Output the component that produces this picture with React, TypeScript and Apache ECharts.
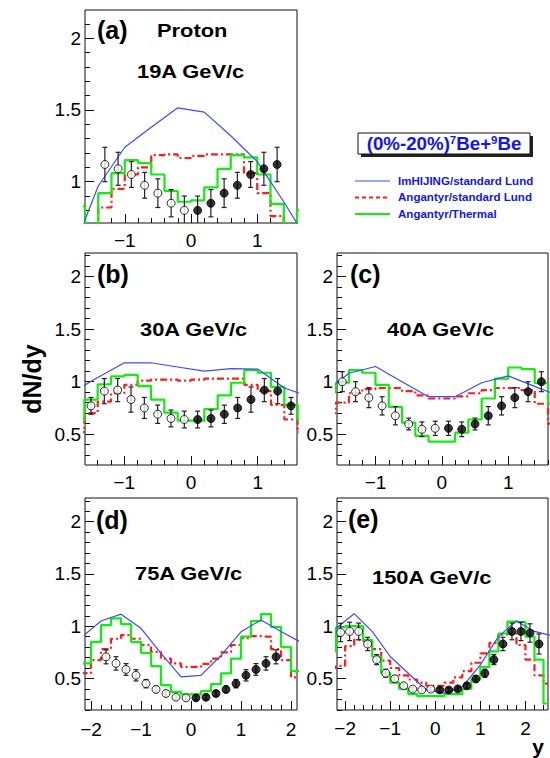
import React, { useEffect, useRef } from 'react';
import * as echarts from 'echarts';

// ---------------- Panel (a): 19A GeV/c ----------------
const A_RAP = [-1.3, -1.1, -0.9, -0.7, -0.5, -0.3, -0.1, 0.1, 0.3, 0.5, 0.7, 0.9, 1.1, 1.3];
const A_DNDY = [1.12, 1.09, 1.05, 0.975, 0.92, 0.85, 0.8, 0.8, 0.85, 0.92, 0.975, 1.05, 1.09, 1.12];
const A_ERR = [0.12, 0.115, 0.09, 0.09, 0.1, 0.095, 0.1, 0.1, 0.095, 0.1, 0.09, 0.09, 0.115, 0.12];
const A_BINS = [-1.7, -1.5, -1.3, -1.1, -0.9, -0.7, -0.5, -0.3, -0.1, 0.1, 0.3, 0.5, 0.7, 0.9, 1.1, 1.3, 1.5, 1.7];
const A_THERMAL = [0.83, 0.7, 0.92, 1.06, 1.15, 1.13, 1.05, 0.935, 0.86, 0.87, 0.96, 1.09, 1.185, 1.17, 1.05, 0.845, 0.7, 0.8];
const A_LUND = [0.7, 0.7, 0.82, 0.95, 1.05, 1.1, 1.185, 1.19, 1.165, 1.18, 1.19, 1.19, 1.19, 1.06, 0.92, 0.76, 0.7, 0.7];
const A_HIJ_Y = [-1.8, -1.4, -1.0, -0.6, -0.2, 0.2, 0.6, 1.0, 1.4, 1.8];
const A_HIJ = [0.5, 0.97, 1.24, 1.38, 1.515, 1.485, 1.32, 1.14, 0.86, 0.56];

// ---------------- Panel (b): 30A GeV/c ----------------
const B_RAP = [-1.5, -1.3, -1.1, -0.9, -0.7, -0.5, -0.3, -0.1, 0.1, 0.3, 0.5, 0.7, 0.9, 1.1, 1.3, 1.5];
const B_DNDY = [0.77, 0.91, 0.92, 0.83, 0.75, 0.69, 0.65, 0.64, 0.64, 0.65, 0.69, 0.75, 0.83, 0.92, 0.91, 0.77];
const B_ERR = [0.08, 0.12, 0.11, 0.12, 0.1, 0.087, 0.08, 0.08, 0.08, 0.08, 0.087, 0.1, 0.12, 0.11, 0.12, 0.08];
const B_BINS = [-1.7, -1.5, -1.3, -1.1, -0.9, -0.7, -0.5, -0.3, -0.1, 0.1, 0.3, 0.5, 0.7, 0.9, 1.1, 1.3, 1.5, 1.7];
const B_THERMAL = [0.635, 0.83, 0.975, 1.05, 1.065, 0.96, 0.83, 0.705, 0.63, 0.63, 0.74, 0.87, 0.99, 1.11, 1.085, 0.95, 0.78, 0.635];
const B_LUND = [0.52, 0.7, 0.81, 0.89, 0.97, 1.01, 1.02, 1.02, 1.01, 1.02, 1.03, 1.03, 1.03, 0.97, 0.91, 0.78, 0.64, 0.52];
const B_HIJ_Y = [-1.8, -1.4, -1.0, -0.6, -0.2, 0.2, 0.6, 1.0, 1.4, 1.8];
const B_HIJ = [0.89, 1.04, 1.18, 1.18, 1.14, 1.1, 1.125, 1.12, 0.94, 0.85];

// ---------------- Panel (c): 40A GeV/c ----------------
const C_RAP = [-1.5, -1.3, -1.1, -0.9, -0.7, -0.5, -0.3, -0.1, 0.1, 0.3, 0.5, 0.7, 0.9, 1.1, 1.3, 1.5];
const C_DNDY = [1.0, 0.905, 0.848, 0.77, 0.676, 0.597, 0.547, 0.556, 0.556, 0.547, 0.597, 0.676, 0.77, 0.848, 0.905, 1.0];
const C_ERR = [0.095, 0.095, 0.095, 0.087, 0.087, 0.056, 0.07, 0.068, 0.068, 0.07, 0.056, 0.087, 0.087, 0.095, 0.095, 0.095];
const C_BINS = [-1.7, -1.5, -1.3, -1.1, -0.9, -0.7, -0.5, -0.3, -0.1, 0.1, 0.3, 0.5, 0.7, 0.9, 1.1, 1.3, 1.5, 1.7];
const C_THERMAL = [0.9, 0.99, 1.11, 1.085, 0.97, 0.76, 0.61, 0.485, 0.43, 0.43, 0.515, 0.64, 0.84, 1.03, 1.135, 1.12, 0.985, 0.79];
const C_LUND = [0.7, 0.8, 0.89, 0.93, 0.94, 0.94, 0.91, 0.87, 0.84, 0.84, 0.86, 0.89, 0.92, 0.94, 0.94, 0.92, 0.79, 0.6];
const C_HIJ_Y = [-1.8, -1.4, -1.0, -0.6, -0.2, 0.2, 0.6, 1.0, 1.4, 1.8];
const C_HIJ = [0.88, 1.08, 1.145, 1.0, 0.857, 0.857, 0.99, 1.055, 0.955, 0.855];

// ---------------- Panel (d): 75A GeV/c ----------------
const D_RAP = [-1.7, -1.5, -1.3, -1.1, -0.9, -0.7, -0.5, -0.3, -0.1, 0.1, 0.3, 0.5, 0.7, 0.9, 1.1, 1.3, 1.5, 1.7];
const D_DNDY = [0.707, 0.644, 0.586, 0.53, 0.45, 0.395, 0.356, 0.32, 0.314, 0.314, 0.32, 0.356, 0.395, 0.45, 0.53, 0.586, 0.644, 0.707];
const D_ERR = [0.067, 0.064, 0.056, 0.054, 0.04, 0.03, 0.025, 0.02, 0.02, 0.02, 0.02, 0.025, 0.03, 0.04, 0.054, 0.056, 0.064, 0.067];
const D_BINS = [-2.3, -2.1, -1.9, -1.7, -1.5, -1.3, -1.1, -0.9, -0.7, -0.5, -0.3, -0.1, 0.1, 0.3, 0.5, 0.7, 0.9, 1.1, 1.3, 1.5, 1.7, 1.9, 2.1, 2.3];
const D_THERMAL = [0.55, 0.644, 0.85, 1.01, 1.075, 1.02, 0.85, 0.745, 0.618, 0.436, 0.372, 0.347, 0.347, 0.38, 0.445, 0.548, 0.69, 0.9, 1.05, 1.116, 0.994, 0.8, 0.57, 0.45];
const D_LUND = [0.45, 0.55, 0.675, 0.78, 0.88, 0.915, 0.88, 0.82, 0.755, 0.69, 0.644, 0.61, 0.61, 0.64, 0.69, 0.75, 0.82, 0.885, 0.905, 0.9, 0.78, 0.675, 0.51, 0.4];
const D_HIJ_Y = [-2.2, -1.8, -1.4, -1.0, -0.6, -0.2, 0.2, 0.6, 1.0, 1.4, 1.8, 2.2];
const D_HIJ = [0.89, 1.05, 1.115, 0.98, 0.74, 0.515, 0.53, 0.72, 0.946, 1.06, 0.95, 0.845];

// ---------------- Panel (e): 150A GeV/c ----------------
const E_RAP = [-2.1, -1.9, -1.7, -1.5, -1.3, -1.1, -0.9, -0.7, -0.5, -0.3, -0.1, 0.1, 0.3, 0.5, 0.7, 0.9, 1.1, 1.3, 1.5, 1.7, 1.9, 2.1, 2.3];
const E_DNDY = [0.94, 0.95, 0.95, 0.83, 0.68, 0.55, 0.497, 0.43, 0.398, 0.39, 0.398, 0.39, 0.39, 0.4, 0.43, 0.495, 0.55, 0.68, 0.83, 0.95, 0.95, 0.935, 0.83];
const E_ERR = [0.088, 0.088, 0.08, 0.064, 0.048, 0.038, 0.03, 0.025, 0.02, 0.02, 0.02, 0.02, 0.02, 0.02, 0.025, 0.03, 0.038, 0.048, 0.064, 0.08, 0.088, 0.088, 0.096];
const E_BINS = [-2.3, -2.1, -1.9, -1.7, -1.5, -1.3, -1.1, -0.9, -0.7, -0.5, -0.3, -0.1, 0.1, 0.3, 0.5, 0.7, 0.9, 1.1, 1.3, 1.5, 1.7, 1.9, 2.1, 2.3, 2.5];
const E_THERMAL = [0.76, 0.99, 1.0, 1.0, 0.87, 0.71, 0.55, 0.46, 0.4, 0.35, 0.33, 0.33, 0.33, 0.35, 0.35, 0.4, 0.49, 0.61, 0.76, 0.93, 1.045, 1.04, 0.9, 0.68, 0.26];
const E_LUND = [0.6, 0.62, 0.81, 0.87, 0.86, 0.78, 0.67, 0.6, 0.53, 0.49, 0.46, 0.43, 0.43, 0.46, 0.51, 0.57, 0.65, 0.74, 0.84, 0.92, 0.93, 0.82, 0.68, 0.53, 0.45];
const E_HIJ_Y = [-2.6, -2.2, -1.8, -1.4, -1.0, -0.6, -0.2, 0.2, 0.6, 1.0, 1.4, 1.8, 2.2, 2.6];
const E_HIJ = [0.85, 0.98, 1.12, 0.95, 0.71, 0.55, 0.39, 0.36, 0.42, 0.63, 0.9, 1.05, 0.95, 0.91];

// ---------------- Texts ----------------
const PANEL_TAGS = ['(a)', '(b)', '(c)', '(d)', '(e)'];
const PANEL_ENERGIES = ['19A GeV/c', '30A GeV/c', '40A GeV/c', '75A GeV/c', '150A GeV/c'];
const LEGEND_LABELS = ['ImHIJING/standard Lund', 'Angantyr/standard Lund', 'Angantyr/Thermal'];

const PANELS = [
  { rap: A_RAP, dndy: A_DNDY, err: A_ERR, bins: A_BINS, thermal: A_THERMAL, lund: A_LUND, hijY: A_HIJ_Y, hij: A_HIJ },
  { rap: B_RAP, dndy: B_DNDY, err: B_ERR, bins: B_BINS, thermal: B_THERMAL, lund: B_LUND, hijY: B_HIJ_Y, hij: B_HIJ },
  { rap: C_RAP, dndy: C_DNDY, err: C_ERR, bins: C_BINS, thermal: C_THERMAL, lund: C_LUND, hijY: C_HIJ_Y, hij: C_HIJ },
  { rap: D_RAP, dndy: D_DNDY, err: D_ERR, bins: D_BINS, thermal: D_THERMAL, lund: D_LUND, hijY: D_HIJ_Y, hij: D_HIJ },
  { rap: E_RAP, dndy: E_DNDY, err: E_ERR, bins: E_BINS, thermal: E_THERMAL, lund: E_LUND, hijY: E_HIJ_Y, hij: E_HIJ },
];

// layout (pixels) and axis ranges
const LAYOUT = [
  { left: 85, top: 10, width: 212, height: 213, xMin: -1.6, xMax: 1.6, yMin: 0.712, yMax: 2.197, xLabelMargin: 8, tagX: 97, tagY: 30, enX: 137, enY: 71 },
  { left: 85, top: 253, width: 212, height: 212, xMin: -1.59, xMax: 1.59, yMin: 0.207, yMax: 2.225, xLabelMargin: 8, tagX: 97, tagY: 274, enX: 140, enY: 329 },
  { left: 337, top: 253, width: 211, height: 212, xMin: -1.58, xMax: 1.6, yMin: 0.207, yMax: 2.225, xLabelMargin: 8, tagX: 350, tagY: 274, enX: 387, enY: 329 },
  { left: 85, top: 498, width: 212, height: 212, xMin: -2.12, xMax: 2.12, yMin: 0.198, yMax: 2.227, xLabelMargin: 10, tagX: 96, tagY: 520, enX: 135, enY: 573 },
  { left: 337, top: 498, width: 211, height: 212, xMin: -2.18, xMax: 2.5, yMin: 0.198, yMax: 2.227, xLabelMargin: 9, tagX: 348, tagY: 519, enX: 372, enY: 577 },
];

const FONT = '"Liberation Sans", Arial, Helvetica, sans-serif';
const BLUE = '#3a4cff';
const RED = '#ff1c1c';
const GREEN = '#10ee10';
const TEXT_BLUE = '#1414f0';

function tickValues(min: number, max: number, step: number) {
  const out: number[] = [];
  const s = Math.ceil(min / step - 1e-9);
  const e = Math.floor(max / step + 1e-9);
  for (let k = s; k <= e; k++) out.push(Math.round(k * step * 1000) / 1000);
  return out;
}

function fmt(v: number) {
  const r = Math.round(v * 10) / 10;
  return r < 0 ? '\u2212' + String(-r) : String(r);
}

function zip(xs: number[], ys: number[]) {
  return xs.map((x, i) => [x, ys[i]]);
}

function buildOption() {
  const grid: any[] = [];
  const xAxis: any[] = [];
  const yAxis: any[] = [];
  const series: any[] = [];

  LAYOUT.forEach((L, i) => {
    grid.push({
      left: L.left, top: L.top, width: L.width, height: L.height,
      show: true, borderColor: '#111', borderWidth: 1, backgroundColor: 'transparent',
      containLabel: false, outerBoundsMode: 'none',
    });
    const common = {
      type: 'value', gridIndex: i,
      axisLine: { show: false, onZero: false },
      splitLine: { show: false },
      minorTick: { show: false },
      minorSplitLine: { show: false },
    };
    xAxis.push({
      ...common, position: 'bottom', min: L.xMin, max: L.xMax,
      axisTick: { show: true, inside: true, length: 9, customValues: tickValues(L.xMin, L.xMax, 1), lineStyle: { color: '#111', width: 1 } },
      axisLabel: {
        show: true, customValues: tickValues(L.xMin, L.xMax, 1), formatter: fmt,
        color: '#000', fontSize: 19, fontFamily: FONT, margin: L.xLabelMargin,
      },
    });
    xAxis.push({
      ...common, position: 'bottom', min: L.xMin, max: L.xMax,
      axisTick: { show: true, inside: true, length: 5, customValues: tickValues(L.xMin, L.xMax, 0.2), lineStyle: { color: '#111', width: 1 } },
      axisLabel: { show: false },
    });
    yAxis.push({
      ...common, position: 'left', min: L.yMin, max: L.yMax,
      axisTick: { show: true, inside: true, length: 9, customValues: tickValues(L.yMin, L.yMax, 0.5), lineStyle: { color: '#111', width: 1 } },
      axisLabel: {
        show: true, customValues: tickValues(L.yMin, L.yMax, 0.5), formatter: fmt,
        color: '#000', fontSize: 19, fontFamily: FONT, margin: 4,
      },
    });
    yAxis.push({
      ...common, position: 'left', min: L.yMin, max: L.yMax,
      axisTick: { show: true, inside: true, length: 5, customValues: tickValues(L.yMin, L.yMax, 0.1), lineStyle: { color: '#111', width: 1 } },
      axisLabel: { show: false },
    });

    const P = PANELS[i];
    const xi = 2 * i;
    const yi = 2 * i;
    series.push({
      type: 'line', name: LEGEND_LABELS[1], xAxisIndex: xi, yAxisIndex: yi,
      data: zip(P.bins, P.lund), step: 'middle', showSymbol: false, symbol: 'none', clip: true,
      lineStyle: { color: RED, width: 2.2, type: [7, 3, 2, 3] }, z: 2,
    });
    series.push({
      type: 'line', name: LEGEND_LABELS[2], xAxisIndex: xi, yAxisIndex: yi,
      data: zip(P.bins, P.thermal), step: 'middle', showSymbol: false, symbol: 'none', clip: true,
      lineStyle: { color: GREEN, width: 2.2 }, z: 3,
    });
    series.push({
      type: 'line', name: LEGEND_LABELS[0], xAxisIndex: xi, yAxisIndex: yi,
      data: zip(P.hijY, P.hij), showSymbol: false, symbol: 'none', clip: true,
      lineStyle: { color: BLUE, width: 1.2 }, z: 4,
    });
    series.push({
      type: 'custom', xAxisIndex: xi, yAxisIndex: yi, clip: true, z: 5,
      data: P.rap.map((x, k) => [x, P.dndy[k], P.err[k]]),
      encode: { x: 0, y: 1 },
      renderItem: (params: any, api: any) => {
        const x = api.value(0);
        const y = api.value(1);
        const e = api.value(2);
        const top = api.coord([x, y + e]);
        const bot = api.coord([x, y - e]);
        const st = { stroke: '#222', lineWidth: 1.2 };
        return {
          type: 'group',
          children: [
            { type: 'line', shape: { x1: top[0], y1: top[1], x2: bot[0], y2: bot[1] }, style: st },
            { type: 'line', shape: { x1: top[0] - 2.5, y1: top[1], x2: top[0] + 2.5, y2: top[1] }, style: st },
            { type: 'line', shape: { x1: bot[0] - 2.5, y1: bot[1], x2: bot[0] + 2.5, y2: bot[1] }, style: st },
          ],
        };
      },
    });
    series.push({
      type: 'scatter', xAxisIndex: xi, yAxisIndex: yi, z: 6, symbol: 'circle', symbolSize: 8,
      data: P.rap.map((x, k) => [x, P.dndy[k]]).filter((d) => d[0] < 0),
      itemStyle: { color: '#fff', borderColor: '#000', borderWidth: 1 },
    });
    series.push({
      type: 'scatter', xAxisIndex: xi, yAxisIndex: yi, z: 6, symbol: 'circle', symbolSize: 8,
      data: P.rap.map((x, k) => [x, P.dndy[k]]).filter((d) => d[0] > 0),
      itemStyle: { color: '#000', borderColor: '#000', borderWidth: 1 },
    });
  });

  const graphic: any[] = [];
  LAYOUT.forEach((L, i) => {
    graphic.push({
      type: 'text', x: L.tagX, y: L.tagY, z: 20,
      style: { text: PANEL_TAGS[i], fill: '#000', font: `bold 25px ${FONT}`, textAlign: 'left', textVerticalAlign: 'middle', align: 'left', verticalAlign: 'middle' },
    });
    graphic.push({
      type: 'text', x: L.enX, y: L.enY, z: 20, scaleX: 1.15,
      style: { text: PANEL_ENERGIES[i], fill: '#000', font: `bold 19px ${FONT}`, textAlign: 'left', textVerticalAlign: 'middle', align: 'left', verticalAlign: 'middle' },
    });
  });
  graphic.push({
    type: 'text', x: 157, y: 30, z: 20, scaleX: 1.15,
    style: { text: 'Proton', fill: '#000', font: `bold 19px ${FONT}`, textAlign: 'left', textVerticalAlign: 'middle', align: 'left', verticalAlign: 'middle' },
  });
  // system box with shadow
  graphic.push({ type: 'rect', z: 20, shape: { x: 361, y: 136, width: 172, height: 21 }, style: { fill: '#222' } });
  graphic.push({ type: 'rect', z: 21, shape: { x: 358, y: 133, width: 172, height: 21 }, style: { fill: '#fff', stroke: '#111', lineWidth: 1 } });
  graphic.push({
    type: 'text', x: 444, y: 144, z: 22, scaleX: 1.04,
    style: {
      text: '(0%-20%){s|7}Be+{s|9}Be',
      fill: TEXT_BLUE, font: `bold 18px ${FONT}`,
      textAlign: 'center', textVerticalAlign: 'middle', align: 'center', verticalAlign: 'middle',
      rich: { s: { fill: TEXT_BLUE, fontSize: 11, fontWeight: 'bold', fontFamily: FONT, verticalAlign: 'top', padding: [0, 0, 8, 0] } },
    },
  });
  // legend
  const legY = [181, 197.5, 214];
  const legStyles = [
    { stroke: BLUE, lineWidth: 1.2 },
    { stroke: RED, lineWidth: 2, lineDash: [4, 3] },
    { stroke: GREEN, lineWidth: 2 },
  ];
  legY.forEach((y, k) => {
    graphic.push({ type: 'line', z: 20, shape: { x1: 355, y1: y, x2: 390, y2: y }, style: legStyles[k] });
    graphic.push({
      type: 'text', x: 398, y, z: 20, scaleX: 1.05,
      style: { text: LEGEND_LABELS[k], fill: TEXT_BLUE, font: `bold 11px ${FONT}`, textAlign: 'left', textVerticalAlign: 'middle', align: 'left', verticalAlign: 'middle' },
    });
  });
  // axis titles
  graphic.push({
    type: 'text', x: 32, y: 379, rotation: Math.PI / 2, z: 20,
    style: { text: 'dN/dy', fill: '#000', font: `bold 25px ${FONT}`, textAlign: 'center', textVerticalAlign: 'middle', align: 'center', verticalAlign: 'middle' },
  });
  graphic.push({
    type: 'text', x: 538, y: 757, z: 20,
    style: { text: 'y', fill: '#000', font: `bold 21px ${FONT}`, textAlign: 'center', textVerticalAlign: 'bottom', align: 'center', verticalAlign: 'bottom' },
  });

  return { animation: false, backgroundColor: '#fff', grid, xAxis, yAxis, series, graphic };
}

export default function App() {
  const ref = useRef<HTMLDivElement>(null);
  useEffect(() => {
    document.body.style.margin = '0';
    if (!ref.current) return;
    const chart = echarts.init(ref.current, undefined, { renderer: 'svg' });
    chart.setOption(buildOption() as any);
    return () => chart.dispose();
  }, []);
  return <div ref={ref} style={{ width: 550, height: 758 }} />;
}
